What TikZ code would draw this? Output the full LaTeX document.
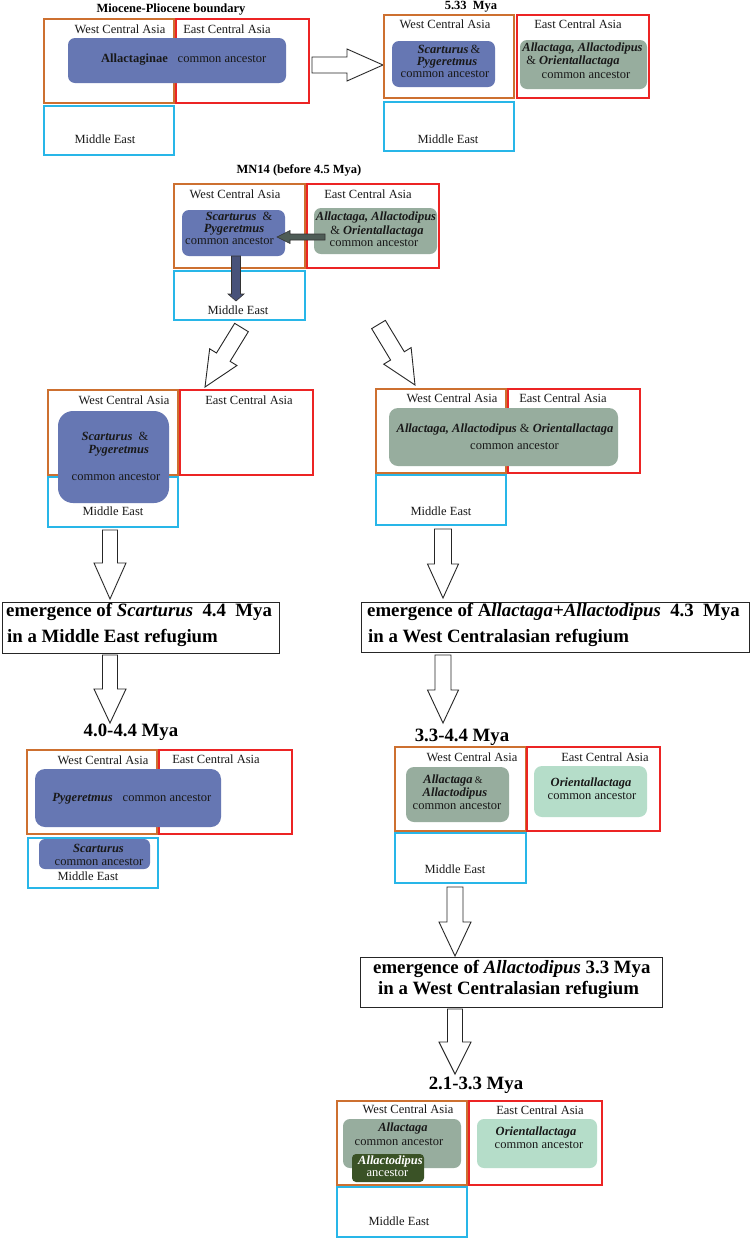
\documentclass[tikz,border=0pt]{standalone}
\usepackage{fontspec}
\setmainfont{Liberation Serif}
\usetikzlibrary{calc}
\definecolor{cOrange}{RGB}{205,112,48}
\definecolor{cRed}{RGB}{236,36,36}
\definecolor{cCyan}{RGB}{40,182,232}
\definecolor{cBlue}{RGB}{102,119,179}
\definecolor{cSage}{RGB}{151,173,158}
\definecolor{cMint}{RGB}{181,221,201}
\definecolor{cDark}{RGB}{58,82,38}
\definecolor{cArrA}{RGB}{78,92,86}
\definecolor{cArrB}{RGB}{72,82,122}
\definecolor{cTxt}{RGB}{25,25,25}
\newcommand\gen[1]{\textbf{\textit{#1}}}
\newcommand\region[6]{\node[#1,minimum width={(#4)-(#2)},minimum height={(#5)-(#3)}] (#6) at ({((#2)+(#4))/2},{((#3)+(#5))/2}) {};}
\newcommand\hollowarrow[7]{%
  \coordinate (#7t) at (#2);
  \coordinate (#7p) at (#3);
  \coordinate (#7h) at ($(#7p)!#6pt!(#7t)$);
  \draw[#1] ($(#7t)!#4pt!90:(#7p)$) -- ($(#7h)!#4pt!-90:(#7t)$) -- ($(#7h)!#5pt!-90:(#7t)$) -- (#7p)
    -- ($(#7h)!#5pt!90:(#7t)$) -- ($(#7h)!#4pt!90:(#7t)$) -- ($(#7t)!#4pt!-90:(#7p)$) -- cycle;}
\tikzset{
  reg/.style={draw,line width=1.1pt,inner sep=0pt,outer sep=0pt},
  wca/.style={reg,draw=cOrange},
  eca/.style={reg,draw=cRed},
  mea/.style={reg,draw=cCyan},
  ebox/.style={draw=black!85,line width=1pt,inner sep=0pt,outer sep=0pt,fill=white},
  bluebox/.style={fill=cBlue,inner sep=0pt,outer sep=0pt,rounded corners=7pt},
  sagebox/.style={fill=cSage,inner sep=0pt,outer sep=0pt,rounded corners=7pt},
  mintbox/.style={fill=cMint,inner sep=0pt,outer sep=0pt,rounded corners=7pt},
  dkbox/.style={fill=cDark,inner sep=0pt,outer sep=0pt,rounded corners=4pt},
  lbl/.style={inner sep=0pt,anchor=mid,text=cTxt,font=\fontsize{12.5}{13}\selectfont},
  ttl/.style={inner sep=0pt,anchor=mid,text=black,font=\bfseries\fontsize{12.5}{13}\selectfont},
  bigttl/.style={inner sep=0pt,anchor=mid,text=black,font=\bfseries\fontsize{18.8}{20}\selectfont},
  etxt/.style={inner sep=0pt,anchor=mid west,text=black,font=\bfseries\fontsize{18.8}{20}\selectfont},
  harrow/.style={draw=black!85,fill=white,line width=0.9pt,line join=miter},
  darrowA/.style={draw=black!80,fill=cArrA,line width=0.6pt,line join=miter},
  darrowB/.style={draw=black!80,fill=cArrB,line width=0.6pt,line join=miter},
}
\begin{document}
\begin{tikzpicture}[x=1pt,y=-1pt]
\useasboundingbox[fill=white] (0,0) rectangle (751,1240);

% ---------- Panel 1 ----------
\node[ttl] (t1) at (171,10) {Miocene-Pliocene boundary};
\region{wca}{44}{19}{174}{103}{w1}
\region{eca}{176}{19}{309}{103}{e1}
\region{mea}{44}{106}{174}{155}{m1}
\region{bluebox}{68}{38}{286}{83}{s1}
\node[lbl] (w1l) at (120,31) {West Central Asia};
\node[lbl] (e1l) at (227,31) {East Central Asia};
\node[lbl] (m1l) at (105,141) {Middle East};
\node[lbl] (s1a) at (134.5,60) {\textbf{Allactaginae}};
\node[lbl] (s1b) at (222,60) {common ancestor};
\hollowarrow{harrow}{312,65}{383,65}{8}{16}{36}{a1}

% ---------- Panel 2 ----------
\node[ttl] (t2) at (471,7) {5.33\ \ Mya};
\region{wca}{384}{15}{514}{98}{w2}
\region{eca}{517}{15}{649}{98}{e2}
\region{mea}{384}{102}{514}{151}{m2}
\region{bluebox}{392}{41}{495}{87}{s2}
\region{sagebox}{520}{40}{647}{89}{g2}
\node[lbl] (w2l) at (445,26) {West Central Asia};
\node[lbl] (e2l) at (578,26) {East Central Asia};
\node[lbl] (m2l) at (448,141) {Middle East};
\node[lbl] (s2a) at (449,51) {\gen{Scarturus}\,\&};
\node[lbl] (s2b) at (447,63) {\gen{Pygeretmus}};
\node[lbl] (s2c) at (445,75) {common ancestor};
\node[lbl] (g2a) at (582.5,49) {\gen{Allactaga, Allactodipus}};
\node[lbl] (g2b) at (573,62) {\& \gen{Orientallactaga}};
\node[lbl] (g2c) at (586,76) {common ancestor};

% ---------- Panel 3 ----------
\node[ttl] (t3) at (299,171) {MN14 (before 4.5 Mya)};
\region{wca}{174}{184}{305}{268}{w3}
\region{eca}{307}{184}{439}{268}{e3}
\region{mea}{174}{271}{305}{320}{m3}
\region{bluebox}{182}{210}{285}{256}{s3}
\region{sagebox}{314}{208}{437}{254}{g3}
\node[lbl] (w3l) at (235,196) {West Central Asia};
\node[lbl] (e3l) at (368,196) {East Central Asia};
\node[lbl] (m3l) at (238,312) {Middle East};
\node[lbl] (s3a) at (239,218) {\gen{Scarturus}\ \ \&};
\node[lbl] (s3b) at (234,230) {\gen{Pygeretmus}};
\node[lbl] (s3c) at (229.5,242) {common ancestor};
\node[lbl] (g3a) at (376,218) {\gen{Allactaga, Allactodipus}};
\node[lbl] (g3b) at (377,232) {\& \gen{Orientallactaga}};
\node[lbl] (g3c) at (374,244) {common ancestor};
\hollowarrow{darrowA}{325,237}{277,237}{3}{6.5}{13}{a3}
\hollowarrow{darrowB}{236,256}{236,301}{4.5}{8}{7}{a4}
\hollowarrow{harrow}{241.5,327.5}{205,387}{8}{16}{35}{a5}
\hollowarrow{harrow}{378.5,324.5}{415,385}{8}{16}{34}{a6}

% ---------- Panel 4 left ----------
\region{wca}{48}{390}{178}{475}{w4}
\region{eca}{180}{390}{313}{475}{e4}
\region{mea}{48}{477}{178}{527}{m4}
\region{bluebox,rounded corners=15pt}{58}{411}{169}{503}{s4}
\node[lbl] (w4l) at (124,402) {West Central Asia};
\node[lbl] (e4l) at (249,402) {East Central Asia};
\node[lbl] (m4l) at (113,513) {Middle East};
\node[lbl] (s4a) at (115,438) {\gen{Scarturus}\ \ \&};
\node[lbl] (s4b) at (118.7,451) {\gen{Pygeretmus}};
\node[lbl] (s4c) at (116,478) {common ancestor};

% ---------- Panel 4 right ----------
\region{wca}{376}{389}{506}{473}{w5}
\region{eca}{508}{389}{640}{473}{e5}
\region{mea}{376}{475}{506}{525}{m5}
\region{sagebox,rounded corners=9pt}{389}{408}{618}{466}{g5}
\node[lbl] (w5l) at (452,400) {West Central Asia};
\node[lbl] (e5l) at (563,400) {East Central Asia};
\node[lbl] (m5l) at (441,513) {Middle East};
\node[lbl] (g5a) at (505,430) {\gen{Allactaga, Allactodipus} \& \gen{Orientallactaga}};
\node[lbl] (g5b) at (514.5,447) {common ancestor};

\hollowarrow{harrow}{110,530}{110,599}{7.5}{16}{36}{a7}
\hollowarrow{harrow}{443,529}{443,598}{8.5}{15.5}{34}{a8}

% ---------- Emergence boxes ----------
\region{ebox}{2}{602}{279}{653}{eb1}
\node[etxt] (eb1a) at (6,614) {emergence of \textit{Scarturus}\ \ 4.4\ \ Mya};
\node[etxt] (eb1b) at (7,640) {in a Middle East refugium};
\region{ebox}{361}{602}{749}{652}{eb2}
\node[etxt] (eb2a) at (367,614) {emergence of A\textit{llactaga+Allactodipus}\ \ 4.3\ \ Mya};
\node[etxt] (eb2b) at (368,640) {in a West Centralasian refugium};

\hollowarrow{harrow}{110,655}{110,723}{7.5}{16}{34}{a9}
\hollowarrow{harrow}{443,655}{443,723}{8}{15.5}{33}{a10}

% ---------- Panel 5 left ----------
\node[bigttl] (t5) at (131,734) {4.0-4.4 Mya};
\region{wca}{27}{750}{157}{834}{w6}
\region{eca}{159}{750}{292}{834}{e6}
\region{mea}{28}{838}{158}{888}{m6}
\region{bluebox,rounded corners=10pt}{35}{769}{221}{827}{s6}
\region{bluebox,rounded corners=6pt}{39}{839}{150}{869}{s7}
\node[lbl] (w6l) at (103,762) {West Central Asia};
\node[lbl] (e6l) at (216,761) {East Central Asia};
\node[lbl] (m6l) at (88,878) {Middle East};
\node[lbl] (s6a) at (82.5,799) {\gen{Pygeretmus}};
\node[lbl] (s6b) at (167,799) {common ancestor};
\node[lbl] (s7a) at (98.5,850.5) {\gen{Scarturus}};
\node[lbl] (s7b) at (99,863) {common ancestor};

% ---------- Panel 5 right ----------
\node[bigttl] (t7) at (462,739) {3.3-4.4 Mya};
\region{wca}{395}{747}{526}{831}{w7}
\region{eca}{527}{747}{660}{831}{e7}
\region{mea}{395}{833}{526}{883}{m7}
\region{sagebox,rounded corners=8pt}{406}{767}{509}{822}{g7}
\region{mintbox,rounded corners=8pt}{534}{766}{647}{817}{n7}
\node[lbl] (w7l) at (472,759) {West Central Asia};
\node[lbl] (e7l) at (605,759) {East Central Asia};
\node[lbl] (m7l) at (455,871) {Middle East};
\node[lbl] (g7a) at (453,781) {\gen{Allactaga}\,{\fontsize{10}{10}\selectfont\&}};
\node[lbl] (g7b) at (455,794) {\gen{Allactodipus}};
\node[lbl] (g7c) at (457,807) {common ancestor};
\node[lbl] (n7a) at (591,784) {\gen{Orientallactaga}};
\node[lbl] (n7b) at (592,797) {common ancestor};

\hollowarrow{harrow}{455,887}{455,956}{8}{16}{34}{a11}
\region{ebox}{360}{957}{662}{1007}{eb3}
\node[etxt] (eb3a) at (373,971) {emergence of \textit{Allactodipus} 3.3 Mya};
\node[etxt] (eb3b) at (378,992) {in a West Centralasian refugium};
\hollowarrow{harrow}{455,1009}{455,1074}{7.5}{16}{32}{a12}

% ---------- Panel 6 ----------
\node[bigttl] (t8) at (476,1087) {2.1-3.3 Mya};
\region{wca}{337}{1101}{467}{1185}{w8}
\region{eca}{469}{1101}{602}{1185}{e8}
\region{mea}{337}{1187}{467}{1237}{m8}
\region{sagebox}{343}{1119}{461}{1168}{g8}
\region{dkbox}{352}{1154}{424}{1182}{d8}
\region{mintbox}{477}{1119}{597}{1168}{n8}
\node[lbl] (w8l) at (408,1111) {West Central Asia};
\node[lbl] (e8l) at (540,1112) {East Central Asia};
\node[lbl] (m8l) at (399,1223) {Middle East};
\node[lbl] (g8a) at (403,1129) {\gen{Allactaga}};
\node[lbl] (g8b) at (399,1143) {common ancestor};
\node[lbl,text=white] (d8a) at (390.5,1162) {\gen{Allactodipus}};
\node[lbl,text=white] (d8b) at (387.5,1174) {ancestor};
\node[lbl] (n8a) at (536,1133) {\gen{Orientallactaga}};
\node[lbl] (n8b) at (539,1146) {common ancestor};
\end{tikzpicture}
\end{document}
